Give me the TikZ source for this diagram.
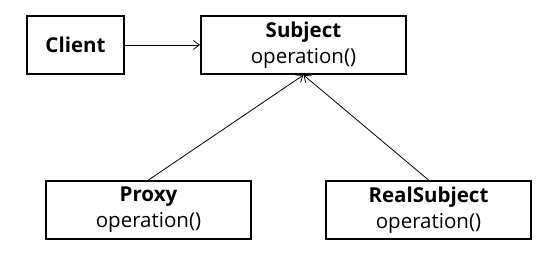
\documentclass[tikz,border=0pt]{standalone}
\usepackage{fontspec}
\setmainfont{Open Sans}
\usetikzlibrary{arrows.meta}
\begin{document}
\begin{tikzpicture}[x=1pt,y=-1pt,
  box/.style={draw, line width=2pt, inner sep=0pt, align=center, font=\fontsize{20.5}{26}\selectfont},
  conn/.style={line width=0.8pt, -{Straight Barb[length=6pt,width=9pt]}}]
\useasboundingbox (0,0) rectangle (555,253);
\node[box, minimum width=97pt, minimum height=58pt] (client) at (75.5,45) {\textbf{Client}};
\node[box, minimum width=205pt, minimum height=58pt] (subject) at (303.5,45) {\textbf{Subject}\\operation()};
\node[box, minimum width=205pt, minimum height=58pt] (proxy) at (148.5,210) {\textbf{Proxy}\\operation()};
\node[box, minimum width=205pt, minimum height=58pt] (real) at (428.5,210) {\textbf{RealSubject}\\operation()};
\draw[conn] (client.east) -- (subject.west);
\draw[conn] (proxy.north) -- (subject.south);
\draw[conn] (real.north) -- (subject.south);
\end{tikzpicture}
\end{document}
